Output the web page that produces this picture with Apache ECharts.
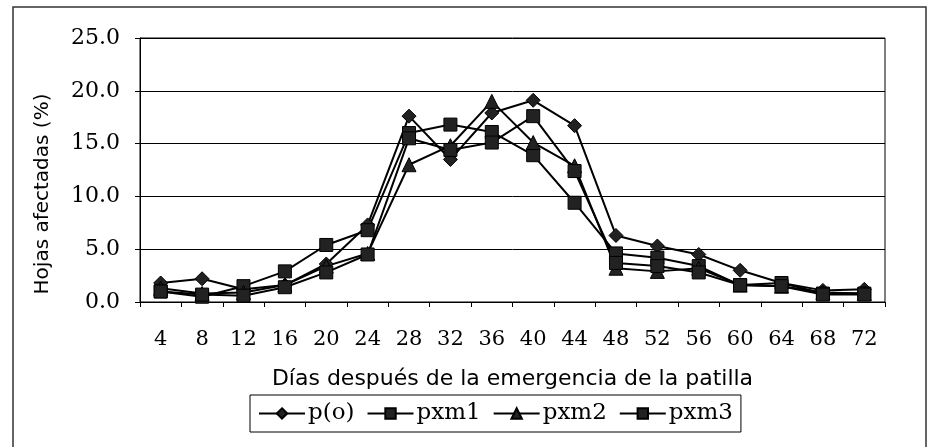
<!DOCTYPE html>
<html>
<head>
<meta charset="utf-8">
<script src="https://cdn.jsdelivr.net/npm/echarts@6/dist/echarts.min.js"></script>
<style>
html,body{margin:0;padding:0;background:#fff;}
#chart{width:933px;height:447px;}
</style>
</head>
<body>
<div id="chart"></div>
<script>
const categories = ['4','8','12','16','20','24','28','32','36','40','44','48','52','56','60','64','68','72'];
const p_o  = [1.8, 2.2, 1.2, 1.6, 3.6, 7.3, 17.6, 13.5, 17.9, 19.1, 16.7, 6.3, 5.3, 4.5, 3.0, 1.8, 1.1, 1.2];
const pxm1 = [1.0, 0.5, 1.5, 2.9, 5.4, 6.8, 16.0, 16.8, 16.1, 13.9, 9.4, 4.6, 4.2, 3.4, 1.6, 1.8, 0.8, 0.8];
const pxm2 = [1.3, 0.8, 0.9, 1.6, 3.4, 4.6, 13.0, 14.8, 19.0, 15.1, 12.9, 3.2, 2.9, 3.2, 1.6, 1.5, 0.9, 0.8];
const pxm3 = [1.0, 0.7, 0.6, 1.4, 2.8, 4.5, 15.5, 14.4, 15.1, 17.6, 12.4, 3.7, 3.4, 2.8, 1.6, 1.5, 0.7, 0.7];
const yTicks = [0, 5, 10, 15, 20, 25];

const serif = 'DejaVu Serif';
const sans = 'DejaVu Sans';

function mk(name, data, symbol, size) {
  return {
    name: name, type: 'line', data: data,
    symbol: symbol, symbolSize: size,
    lineStyle: {color: '#000', width: 2},
    itemStyle: {color: '#222', borderColor: '#000', borderWidth: 1},
    emphasis: {disabled: true},
    animation: false
  };
}

const chart = echarts.init(document.getElementById('chart'), null, {renderer: 'canvas'});
chart.setOption({
  animation: false,
  backgroundColor: '#fff',
  graphic: [{
    type: 'rect', shape: {x: 13, y: 7, width: 913, height: 460},
    style: {fill: 'none', stroke: '#333', lineWidth: 1.5}, silent: true
  }, {
    type: 'text', x: 43, y: 194, rotation: Math.PI / 2,
    style: {text: 'Hojas afectadas (%)', fontFamily: sans, fontSize: 20, fill: '#000',
      align: 'center', verticalAlign: 'middle'}, silent: true
  }],
  grid: {left: 140, right: 48, top: 38, bottom: 145, show: true, borderColor: '#000', borderWidth: 1, containLabel: false},
  legend: {
    left: 250, top: 395,
    data: ['p(o)', 'pxm1', 'pxm2', 'pxm3'],
    borderColor: '#000', borderWidth: 1, padding: [7, 8, 7, 8],
    itemWidth: 46, itemHeight: 13, itemGap: 12,
    textStyle: {fontFamily: serif, fontSize: 23, color: '#000', padding: [0, 0, 0, -2]}
  },
  xAxis: {
    type: 'category', data: categories, boundaryGap: true,
    axisLine: {lineStyle: {color: '#000', width: 1}},
    axisTick: {show: true, interval: 0, length: 5, lineStyle: {color: '#000'}},
    axisLabel: {interval: 0, fontFamily: serif, fontSize: 21, color: '#000', margin: 27},
    name: 'Días después de la emergencia de la patilla',
    nameLocation: 'middle', nameGap: 66,
    nameTextStyle: {fontFamily: sans, fontSize: 22, color: '#000'},
    splitLine: {show: false}
  },
  yAxis: {
    type: 'value', min: 0, max: 25, interval: 5,
    axisLine: {show: true, lineStyle: {color: '#000', width: 1}},
    axisTick: {show: true, length: 5, lineStyle: {color: '#000'}},
    axisLabel: {fontFamily: serif, fontSize: 22, color: '#000', margin: 20,
      formatter: function (v) { return yTicks.indexOf(v) >= 0 ? v.toFixed(1) : ''; }},
    splitLine: {show: true, lineStyle: {color: '#000', width: 1}}
  },
  series: [
    mk('p(o)', p_o, 'diamond', 14),
    mk('pxm1', pxm1, 'rect', 13),
    mk('pxm2', pxm2, 'triangle', 14),
    mk('pxm3', pxm3, 'rect', 13)
  ]
});
</script>
</body>
</html>
